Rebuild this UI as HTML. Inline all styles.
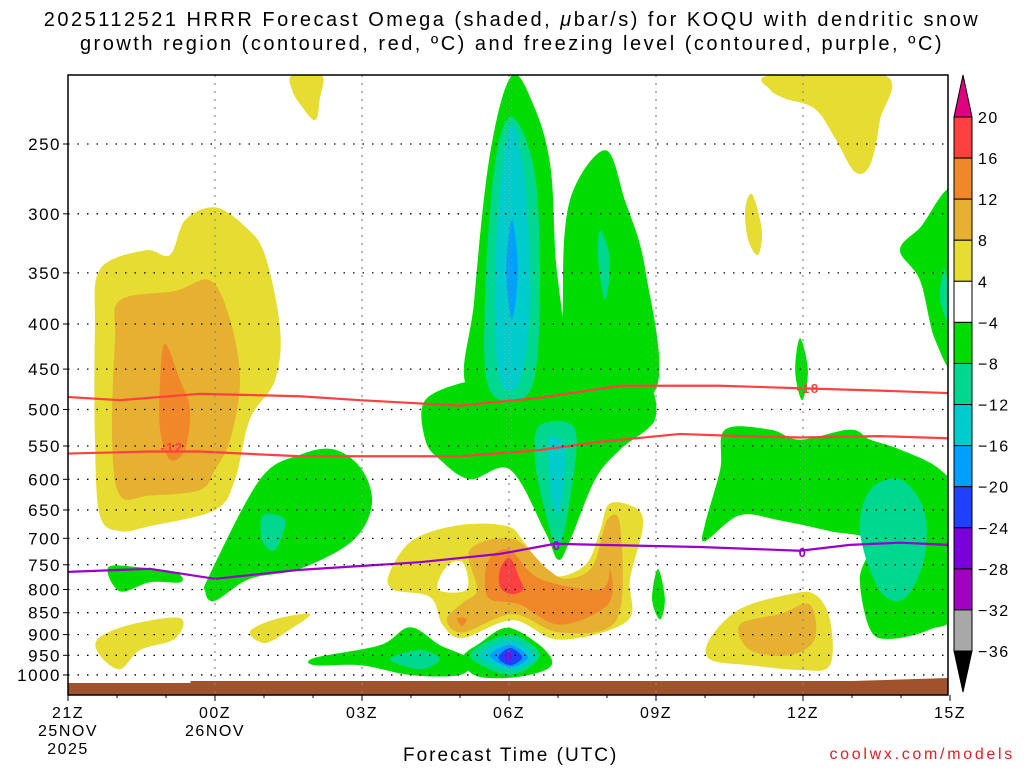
<!DOCTYPE html>
<html><head><meta charset="utf-8"><style>
body{margin:0;background:#fff;width:1024px;height:768px;overflow:hidden}
svg text{font-family:"Liberation Sans",sans-serif;letter-spacing:1.5px}
</style></head><body>
<svg id="c" width="1024" height="768"></svg>
<script>
const levels=[250,300,350,400,450,500,550,600,650,700,750,800,850,900,950,1000];
const timeLabels=[["21Z","25NOV","2025"],["00Z","26NOV"],["03Z"],["06Z"],["09Z"],["12Z"],["15Z"]];
const timeHours=[0,3,6,9,12,15,18];
const cbValues=[20,16,12,8,4,-4,-8,-12,-16,-20,-24,-28,-32,-36];
const cbColors=["#ff4040","#f0882a","#e6b030","#e6dc32","#ffffff","#00dc00","#00d890","#00cccc","#00a0ff","#2040ff","#7a00dc","#a000c0","#a8a8a8"];
const Y="#e6dc32",O1="#e6b030",O2="#f0882a",R="#ff4040",G="#00dc00",T="#00d890",C="#00cccc",B="#00a0ff",DB="#2040ff",P="#7a00dc";
const blobs=[
[Y,[[0.65,347],[1.57,330],[2.08,334],[2.39,305],[3.0,295],[3.61,310],[4.02,334],[4.33,406],[4.22,464],[3.71,513],[3.41,600],[3.0,650],[1.67,678],[1.06,687],[0.65,659],[0.55,541],[0.55,406]]],
[O1,[[1.06,376],[2.18,367],[2.9,357],[3.31,396],[3.51,464],[3.31,541],[3.0,585],[2.69,617],[1.67,626],[1.06,626],[0.9,541],[0.96,416]]],
[O2,[[1.98,421],[2.29,464],[2.49,500],[2.39,555],[2.08,570],[1.88,527],[1.88,464]]],
[Y,[[4.57,209],[5.18,209],[5.14,222],[5.04,235],[4.73,225],[4.57,217]]],
[Y,[[14.33,209],[16.67,209],[16.57,235],[16.37,264],[16.06,269],[15.65,246],[15.24,228],[14.63,222],[14.33,217]]],
[Y,[[13.96,285],[14.16,313],[14.08,334],[13.88,321],[13.82,297]]],
[Y,[[3.71,893],[4.22,865],[4.94,853],[4.53,888],[4.02,920]]],
[Y,[[0.61,910],[1.27,877],[2.29,862],[2.18,910],[1.47,937],[1.06,985],[0.65,950]]],
[Y,[[6.57,764],[7.04,703],[8.0,676],[8.96,678],[9.29,705],[9.69,753],[10.04,773],[10.59,747],[10.86,686],[11.06,639],[11.61,648],[11.73,681],[11.47,778],[11.41,869],[10.04,912],[9.08,867],[8.06,908],[7.65,878],[7.39,816],[6.63,800]]],
["#ffffff",[[7.55,800],[7.73,753],[8.06,746],[8.14,800]]],
[O1,[[8.2,721],[9.08,701],[9.78,758],[10.18,778],[10.71,753],[11.0,668],[11.27,678],[11.2,865],[10.04,895],[9.08,853],[8.06,895],[7.73,865],[8.06,828],[8.35,800]]],
[O2,[[8.61,737],[9.02,722],[9.63,778],[10.86,800],[11.06,758],[11.02,832],[10.04,877],[9.22,832],[8.61,820],[8.51,778]]],
[R,[[8.82,758],[9.02,737],[9.22,778],[9.29,800],[9.06,810],[8.82,795]]],
[O2,[[7.94,862],[8.14,864],[8.04,880]]],
[Y,[[13.1,910],[13.71,842],[14.73,810],[15.24,810],[15.55,865],[15.55,975],[14.94,987],[13.92,975],[13.1,960]]],
[O1,[[13.71,877],[14.53,853],[15.14,832],[15.24,910],[14.73,950],[13.92,937]]],
[G,[[7.29,488],[8.2,464],[9.02,461],[10.04,464],[10.86,476],[11.78,464],[11.98,513],[11.27,555],[10.76,600],[10.24,705],[10.0,740],[9.73,687],[9.02,585],[8.2,600],[7.59,570],[7.29,541]]],
[G,[[9.06,209],[9.53,228],[9.84,264],[9.94,330],[10.04,476],[8.2,476],[8.29,376],[8.61,257]]],
[G,[[10.96,254],[11.37,290],[11.78,347],[11.98,476],[10.24,488],[10.1,376],[10.24,290]]],
[T,[[9.06,233],[9.53,271],[9.63,376],[9.43,476],[8.61,476],[8.51,376],[8.71,264]]],
[C,[[9.06,238],[9.33,278],[9.43,376],[9.22,464],[8.82,464],[8.71,376],[8.82,278]]],
[B,[[9.06,305],[9.18,347],[9.06,395],[8.94,347]]],
[T,[[9.63,521],[10.35,527],[10.24,634],[10.0,718],[9.73,650],[9.53,570]]],
[C,[[9.8,541],[10.14,555],[10.04,650],[9.88,634]]],
[T,[[10.86,313],[11.06,338],[10.96,376],[10.82,338]]],
[G,[[2.9,768],[3.92,600],[4.73,563],[5.43,555],[6.0,585],[6.2,642],[5.8,705],[4.73,758],[3.71,778],[3.0,824],[2.8,804]]],
[G,[[0.82,755],[1.47,755],[2.2,765],[2.3,785],[1.67,785],[1.06,804]]],
[T,[[3.98,659],[4.43,668],[4.22,722],[3.96,703]]],
[G,[[5.04,956],[6.37,925],[6.98,883],[7.59,925],[8.2,960],[8.0,1000],[6.98,1000],[5.98,975],[5.04,975]]],
[T,[[6.57,960],[7.18,937],[7.59,960],[7.18,985]]],
[G,[[8.06,955],[8.41,920],[8.96,884],[9.57,920],[9.88,963],[9.69,990],[8.96,1008],[8.29,1000]]],
[T,[[8.2,950],[9.02,900],[9.63,950],[9.02,1000]]],
[C,[[8.41,950],[9.02,912],[9.53,955],[9.02,987]]],
[B,[[8.61,950],[9.02,925],[9.39,955],[9.02,980]]],
[DB,[[8.78,955],[9.02,932],[9.27,955],[9.02,975]]],
[G,[[12.04,758],[12.18,820],[12.08,865],[11.92,820]]],
[G,[[14.94,415],[15.1,452],[14.98,488],[14.84,452]]],
[G,[[13.0,675],[13.31,585],[13.41,527],[14.33,527],[14.94,541],[15.96,527],[16.37,541],[16.98,555],[17.8,585],[18.1,634],[18.1,842],[17.59,888],[16.78,910],[16.37,888],[16.16,778],[16.37,705],[15.55,687],[14.53,668],[13.71,659],[13.0,705]]],
[T,[[16.37,617],[16.98,600],[17.47,650],[17.47,740],[17.06,820],[16.55,800],[16.16,687]]],
[G,[[18.1,285],[18.1,440],[17.69,416],[17.39,357],[16.98,330],[17.39,311]]],
[T,[[17.9,347],[18.05,406],[17.8,376]]]
];
const lineHours=[0,1.06,2.69,4.73,5.96,8.0,9.63,11.27,13.31,14.94,16.57,17.96];
const iso18=[484,488,480,483,488,495,485,470,470,473,476,479];
const iso12Hours=[0,1.67,2.69,4.73,6.78,8.0,9.63,10.86,12.49,13.71,14.94,16.57,17.96];
const iso12=[561,558,558,565,565,565,556,544,533,536,538,536,539];
const frzHours=[0,1.67,3.0,4.73,7.18,8.82,9.94,10.86,12.90,14.94,15.96,16.98,17.96];
const frz=[764,758,778,760,745,729,710,712,716,723,712,708,712];

const svg=document.getElementById('c');const NS="http://www.w3.org/2000/svg";
const X0=68,X1=948,Y0=75,Y1=695;
const xs=h=>X0+h*49;
const ys=p=>144+383*Math.log(p/250);
function el(t,a,parent){const e=document.createElementNS(NS,t);for(const k in a)e.setAttribute(k,a[k]);(parent||svg).appendChild(e);return e;}
function spline(pts){let n=pts.length,d="";for(let i=0;i<n;i++){const p0=pts[(i-1+n)%n],p1=pts[i],p2=pts[(i+1)%n],p3=pts[(i+2)%n];if(i==0)d+="M"+p1[0]+","+p1[1];const c1=[p1[0]+(p2[0]-p0[0])/6,p1[1]+(p2[1]-p0[1])/6],c2=[p2[0]-(p3[0]-p1[0])/6,p2[1]-(p3[1]-p1[1])/6];d+="C"+c1+" "+c2+" "+p2;}return d+"Z";}
const defs=el('defs',{});const cp=el('clipPath',{id:'pc'},defs);el('rect',{x:X0,y:Y0,width:X1-X0,height:Y1-Y0},cp);
const g=el('g',{'clip-path':'url(#pc)'});
blobs.forEach(b=>{const pts=b[1].map(q=>[xs(q[0]),ys(q[1])]);const e=el('path',{d:spline(pts),fill:b[0]},g);

});
const gr=el('path',{d:`M${X0},${Y1}L${X0},683L${xs(2.5)},683L${xs(2.5)},681L${xs(16)},681L${X1},678L${X1},${Y1}Z`,fill:"#a0522d"},g);


levels.forEach(p=>{const y=ys(p);const l=el('line',{x1:X0,x2:X1,y1:y,y2:y,stroke:"#000","stroke-width":1.3,"stroke-dasharray":"1.5,8"});


const t=el('text',{x:61,y:y+6,"text-anchor":"end","font-size":17});t.textContent=p;


el('line',{x1:X0-5,x2:X0,y1:y,y2:y,stroke:"#000"});});
timeHours.forEach((h,i)=>{const x=xs(h);if(i>0&&i<6){const l=el('line',{x1:x,x2:x,y1:Y0,y2:Y1,stroke:"#888","stroke-width":1.2,"stroke-dasharray":"2,6"});

}
el('line',{x1:x,x2:x,y1:Y1,y2:Y1+6,stroke:"#000"});
timeLabels[i].forEach((s,j)=>{const t=el('text',{x:x,y:718+j*18,"text-anchor":"middle","font-size":16});t.textContent=s;

});});
for(let h=1;h<18;h++){el('line',{x1:xs(h),x2:xs(h),y1:Y1,y2:Y1+3,stroke:"#000"});}
function line(hs,ps,color,name){const d=hs.map((h,i)=>(i?"L":"M")+xs(h)+","+ys(ps[i])).join("");const e=el('path',{d:d,fill:"none",stroke:color,"stroke-width":2.2},g);

}
line(lineHours,iso18,"#ff4040","isotherm-minus18");
line(iso12Hours,iso12,"#ff4040","isotherm-minus12");
line(frzHours,frz,"#9900cc","freezing-level");
function lab(x,y,s,c,name){const t=el('text',{x:x,y:y+5,"text-anchor":"middle","font-size":13,"font-weight":"bold",fill:c});t.textContent=s;

}
lab(808,388,"-18","#ff4040","contour-label");lab(172,447,"-12","#ff4040","contour-label");
lab(557,545,"0","#9900cc","contour-label");lab(803,552,"0","#9900cc","contour-label");lab(509,656,"0","#9900cc","contour-label");
const fr=el('rect',{x:X0,y:Y0,width:X1-X0,height:Y1-Y0,fill:"none",stroke:"#000","stroke-width":1.5});


const cx0=954,cx1=972,cb0=117,seg=(651-117)/13;
cbColors.forEach((c,i)=>{const r=el('rect',{x:cx0,y:cb0+i*seg,width:cx1-cx0,height:seg,fill:c,stroke:"#000","stroke-width":1});

});
el('path',{d:`M${cx0},117L963,75L${cx1},117Z`,fill:"#e0007f",stroke:"#000"});
el('path',{d:`M${cx0},651L963,692L${cx1},651Z`,fill:"#000",stroke:"#000"});
cbValues.forEach((v,i)=>{const t=el('text',{x:978,y:cb0+i*seg+6,"font-size":16});t.textContent=(v<0?"\u2212":"")+Math.abs(v);

});
</script>
<div style="position:absolute;left:0;top:8px;width:1024px;text-align:center;font:20px 'Liberation Sans',sans-serif;line-height:24px;letter-spacing:2.5px;white-space:nowrap">2025112521 HRRR Forecast Omega (shaded, <i>μ</i>bar/s) for KOQU with dendritic snow<br>growth region (contoured, red, ºC) and freezing level (contoured, purple, ºC)</div>
<div style="position:absolute;left:403px;top:745px;font:19px 'Liberation Sans',sans-serif;letter-spacing:2px">Forecast Time (UTC)</div>
<div style="position:absolute;right:9px;top:746px;font:16px 'Liberation Sans',sans-serif;color:#e02020;letter-spacing:2.7px">coolwx.com/models</div>
</body></html>
